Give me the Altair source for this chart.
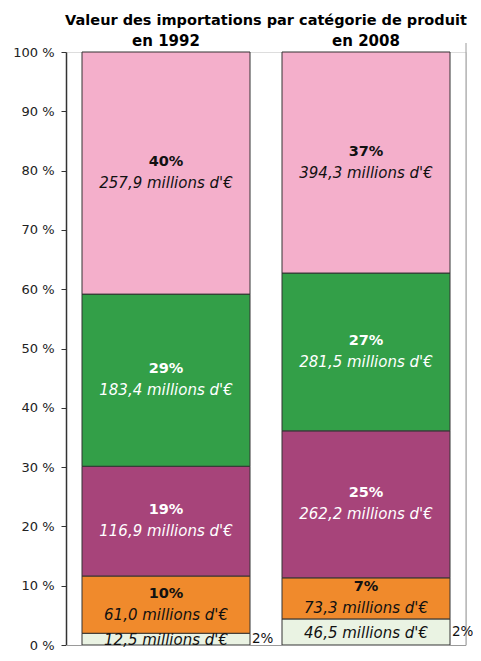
import altair as alt
import pandas as pd

years = ["en 1992", "en 2008"]
categories = ["c1", "c2", "c3", "c4", "c5"]  # bottom to top
values_1992 = [12.5, 61.0, 116.9, 183.4, 257.9]
values_2008 = [46.5, 73.3, 262.2, 281.5, 394.3]
pct_1992 = ["2%", "10%", "19%", "29%", "40%"]
pct_2008 = ["2%", "7%", "25%", "27%", "37%"]
colors = ["#EAF3E3", "#F08A2C", "#A7447A", "#339F48", "#F4AFCB"]
text_colors = ["#111111", "#111111", "#FFFFFF", "#FFFFFF", "#111111"]

rows = []
for year, vals, pcts in [(years[0], values_1992, pct_1992), (years[1], values_2008, pct_2008)]:
    for i, (c, v, p) in enumerate(zip(categories, vals, pcts)):
        rows.append({
            "year": year, "cat": c, "order": i, "value": v, "pct": p,
            "vlabel": f"{v:.1f}".replace(".", ",") + " millions d'€",
        })
df = pd.DataFrame(rows)

W, H = 400, 593
FONT = "DejaVu Sans"

x_enc = alt.X(
    "year:N",
    sort=years,
    scale=alt.Scale(paddingInner=0.16, paddingOuter=0.08),
    axis=alt.Axis(orient="top", title=None, labelAngle=0, domain=False, ticks=False,
                  labelFontWeight="bold", labelFontSize=15, labelFont=FONT,
                  labelColor="#000000", labelPadding=4),
)

base = alt.Chart(df).transform_stack(
    stack="value", groupby=["year"], sort=[alt.SortField("order", "ascending")],
    as_=["y0", "y1"], offset="normalize",
).transform_calculate(mid="(datum.y0 + datum.y1) / 2")

bars = base.mark_bar(stroke="#333333", strokeWidth=1).encode(
    x=x_enc,
    y=alt.Y("y0:Q", scale=alt.Scale(domain=[0, 1]),
            axis=alt.Axis(values=[i / 10 for i in range(11)], title=None, grid=False,
                          labelExpr="format(datum.value * 100, 'd') + ' %'",
                          labelFont=FONT, labelFontSize=13, labelColor="#222222",
                          labelPadding=7, tickSize=5, tickColor="#333333",
                          domainColor="#333333", domainWidth=1.5)),
    y2="y1:Q",
    color=alt.Color("cat:N", scale=alt.Scale(domain=categories, range=colors), legend=None),
)

tcolor = alt.Color("cat:N", scale=alt.Scale(domain=categories, range=text_colors), legend=None)

pct_text = base.transform_filter("datum.order > 0").mark_text(
    font=FONT, fontWeight="bold", fontSize=14.5, dy=-11, baseline="middle"
).encode(x=x_enc, y=alt.Y("mid:Q"), text="pct:N", color=tcolor)

val_text = base.transform_filter("datum.order > 0").mark_text(
    font=FONT, fontStyle="italic", fontSize=15, dy=10, baseline="middle"
).encode(x=x_enc, y=alt.Y("mid:Q"), text="vlabel:N", color=tcolor)

light_text = base.transform_filter("datum.order == 0").mark_text(
    font=FONT, fontStyle="italic", fontSize=15, dy=1, baseline="middle", color="#111111"
).encode(x=x_enc, y=alt.Y("mid:Q"), text="vlabel:N")

out_text = base.transform_filter("datum.order == 0").mark_text(
    font=FONT, fontSize=13.5, dx=86, align="left", baseline="middle", color="#111111"
).encode(x=x_enc, y=alt.Y("mid:Q"), text="pct:N")

one = pd.DataFrame({"k": [0]})
bottom_line = alt.Chart(one).mark_rule(color="#9a9a9a", strokeWidth=1).encode(
    x=alt.value(0), x2=alt.value(W), y=alt.value(H + 0.5))
right_line = alt.Chart(one).mark_rule(color="#9a9a9a", strokeWidth=1).encode(
    x=alt.value(W), y=alt.value(-9), y2=alt.value(H))

chart = alt.layer(
    bars, bottom_line, right_line, light_text, pct_text, val_text, out_text
).resolve_scale(color="independent").properties(
    width=W, height=H,
    title=alt.Title("Valeur des importations par catégorie de produit", font=FONT,
                    fontSize=14.5, fontWeight="bold", anchor="middle", frame="group",
                    offset=5, color="#000000"),
    autosize=alt.AutoSizeParams(type="none"),
    padding={"left": 58, "top": 44, "right": 7, "bottom": 8},
).configure_view(stroke=None).configure(background="white")

chart.save("out.html", embed_options={"renderer": "svg", "actions": False})
